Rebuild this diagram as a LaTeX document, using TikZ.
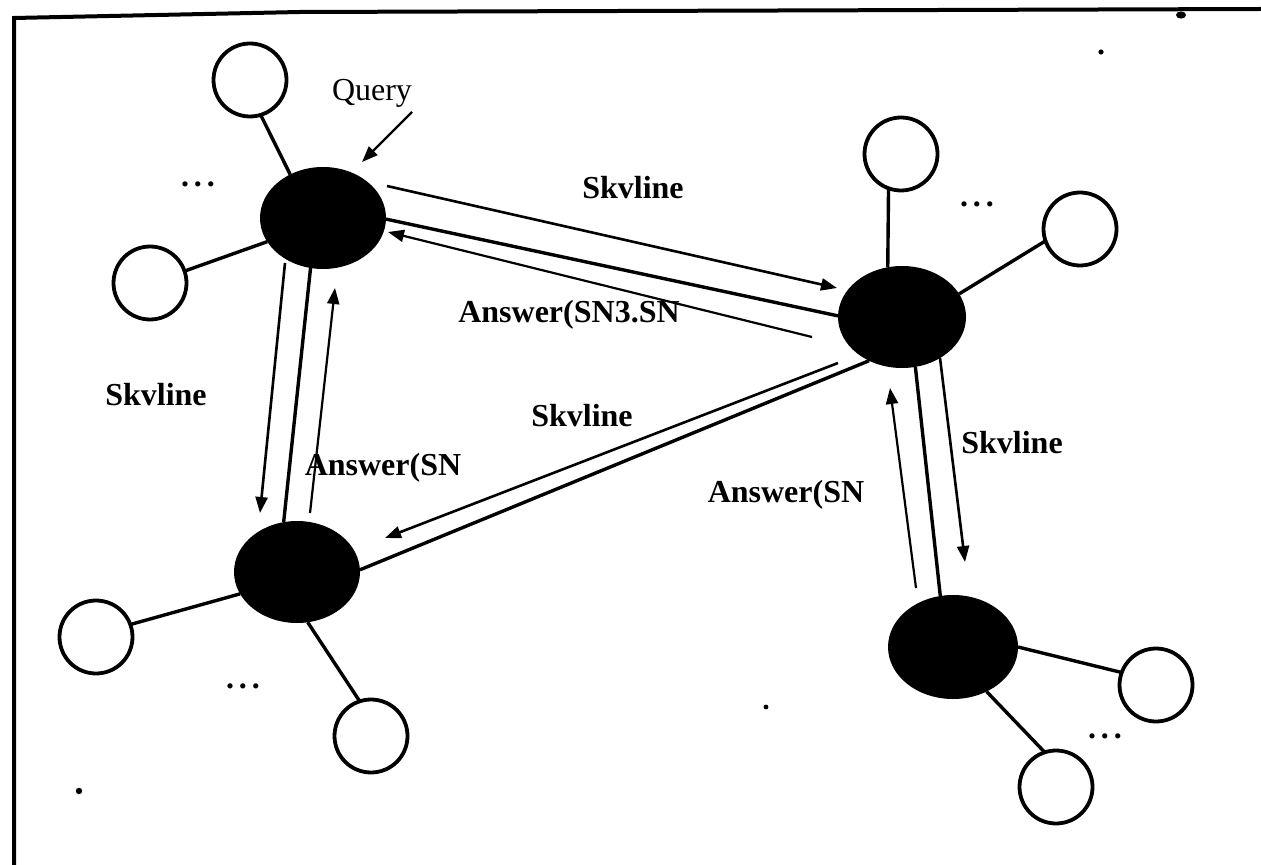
\documentclass[tikz,border=0pt]{standalone}
\usepackage{fontspec}
\setmainfont{Liberation Serif}
\usetikzlibrary{shapes.geometric,arrows.meta}
\tikzset{
 hub/.style={ellipse, fill=black, inner sep=0pt, outer sep=0pt, minimum width=63pt, minimum height=51pt},
 leaf/.style={circle, draw=black, line width=1.9pt, fill=white, inner sep=0pt, outer sep=0pt, minimum size=36.5pt},
 link/.style={line width=1.7pt},
 msg/.style={line width=1.3pt, -{Triangle[length=8pt,width=6pt]}},
 reply/.style={line width=1.1pt, -{Triangle[length=8pt,width=6pt]}},
 lbl/.style={inner sep=0pt, font=\fontsize{16}{18}\selectfont\bfseries},
 plain/.style={inner sep=0pt, font=\fontsize{16}{18}\selectfont},
 dotsty/.style={inner sep=0pt, font=\fontsize{16}{18}\selectfont\bfseries},
 speck/.style={fill=black},
}
\begin{document}
\begin{tikzpicture}[x=0.5pt,y=-0.5pt]
\useasboundingbox (0,0) rectangle (1261,865);
\fill[white] (0,0) rectangle (1261,865);
% frame
\draw[line width=2pt] (14,865) -- (14,18) -- (300,12) -- (1261,9);
\fill[speck] (1181,15) ellipse (2.5pt and 1.8pt);
\fill[speck] (1101,52) circle (1.3pt);
\fill[speck] (766,707) circle (1.2pt);
\fill[speck] (79,791) circle (1.6pt);

% hub nodes
\node[hub] (A) at (323,218) {};
\node[hub, minimum width=64pt] (B) at (902,317) {};
\node[hub] (C) at (297,572) {};
\node[hub, minimum width=65pt, minimum height=52pt] (D) at (953,647) {};

% leaf nodes
\node[leaf] (a1) at (250,80) {};
\node[leaf] (a2) at (150,283) {};
\node[leaf] (b1) at (901,154) {};
\node[leaf] (b2) at (1080,229) {};
\node[leaf] (c1) at (96,637) {};
\node[leaf] (c2) at (371,736) {};
\node[leaf] (d1) at (1156,685) {};
\node[leaf] (d2) at (1056,787) {};

% leaf links
\draw[link] (a1.287) -- (A.127);
\draw[link] (a2.19) -- (A.203);
\draw[link] (b1.250) -- (B.106);
\draw[link] (b2.199) -- (B.22);
\draw[link] (c1.20) -- (C.201);
\draw[link] (c2.108) -- (C.282);
\draw[link] (d1.160) -- (D.0);
\draw[link] (d2.108) -- (D.307);

% hub links
\draw[link] (A.-1) -- (B.179);
\draw[link] (A.256) -- (C.105);
\draw[link] (B.233) -- (C.2);
\draw[link] (B.285) -- (D.104);

% messages
\coordinate (ab0) at (387,186); \coordinate (ab1) at (837,288);
\draw[msg] (ab0) -- (ab1);
\coordinate (ba0) at (812,337); \coordinate (ba1) at (388,232);
\draw[reply] (ba0) -- (ba1);
\coordinate (ac0) at (285,263); \coordinate (ac1) at (260,513);
\draw[msg] (ac0) -- (ac1);
\coordinate (ca0) at (310,513); \coordinate (ca1) at (335,288);
\draw[reply] (ca0) -- (ca1);
\coordinate (bc0) at (838,363); \coordinate (bc1) at (385,538);
\draw[msg] (bc0) -- (bc1);
\coordinate (bd0) at (940,358); \coordinate (bd1) at (965,562);
\draw[msg] (bd0) -- (bd1);
\coordinate (db0) at (916,588); \coordinate (db1) at (890,388);
\draw[reply] (db0) -- (db1);

% query
\node[plain] (q) at (372,93) {Query};
\coordinate (qs) at (412,112); \coordinate (qa) at (362,162);
\draw[reply] (qs) -- (qa);

% labels
\node[lbl] (l1) at (633,188) {Skvline};
\node[lbl] (l2) at (569,315) {Answer(SN3.SN};
\node[lbl] (l3) at (156,395) {Skvline};
\node[lbl] (l4) at (383,468) {Answer(SN};
\node[lbl] (l5) at (582,416) {Skvline};
\node[lbl] (l6) at (786,495) {Answer(SN};
\node[lbl] (l7) at (1012,443) {Skvline};

% ellipses
\node[dotsty] (e1) at (198,184) {.\hspace{0.15em}.\hspace{0.15em}.};
\node[dotsty] (e2) at (977,204) {.\hspace{0.15em}.\hspace{0.15em}.};
\node[dotsty] (e3) at (243,686) {.\hspace{0.15em}.\hspace{0.15em}.};
\node[dotsty] (e4) at (1105,736) {.\hspace{0.15em}.\hspace{0.15em}.};
\end{tikzpicture}
\end{document}
